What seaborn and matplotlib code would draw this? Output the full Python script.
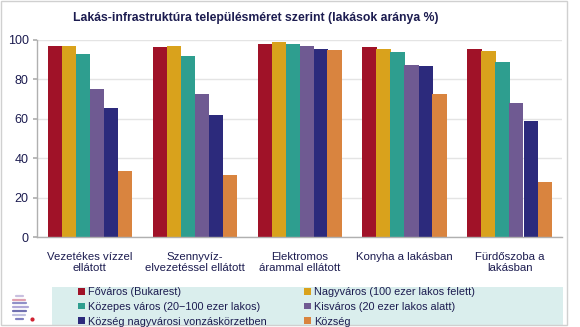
import matplotlib
matplotlib.use("Agg")
import matplotlib.pyplot as plt
import seaborn as sns
import pandas as pd
from matplotlib.patches import Rectangle

categories = ["Vezetékes vízzel\nellátott", "Szennyvíz-\nelvezetéssel ellátott",
              "Elektromos\nárammal ellátott", "Konyha a lakásban", "Fürdőszoba a\nlakásban"]
series = ["Főváros (Bukarest)", "Nagyváros (100 ezer lakos felett)",
          "Közepes város (20−100 ezer lakos)", "Kisváros (20 ezer lakos alatt)",
          "Község nagyvárosi vonzáskörzetben", "Község"]
fovaros = [97.0, 96.6, 98.1, 96.3, 95.3]
nagyvaros = [97.1, 96.8, 98.8, 95.6, 94.4]
kozepes = [92.9, 91.7, 98.0, 93.8, 88.8]
kisvaros = [75.0, 72.7, 96.8, 87.2, 68.2]
kozseg_vonz = [65.3, 62.1, 95.6, 86.6, 58.9]
kozseg = [33.7, 31.6, 94.8, 72.4, 27.8]
yticks = [0, 20, 40, 60, 80, 100]

colors = ["#a01228", "#d9a21c", "#2e9e8f", "#6f5a92", "#2c2a7c", "#d9843f"]
txt = "#1c1c50"

vals = [fovaros, nagyvaros, kozepes, kisvaros, kozseg_vonz, kozseg]
rows = []
for s, v in zip(series, vals):
    for c, x in zip(categories, v):
        rows.append({"cat": c, "series": s, "val": x})
df = pd.DataFrame(rows)

sns.set_theme(style="white")
plt.rcParams['font.family'] = ['Liberation Sans', 'DejaVu Sans']

W, H = 580, 327
fig = plt.figure(figsize=(5.8, 3.27), dpi=100)
ax = fig.add_axes([37/W, 1-237/H, (562-37)/W, (237-40)/H])
sns.barplot(data=df, x="cat", y="val", hue="series", hue_order=series,
            order=categories, palette=colors, width=0.8, gap=0, ax=ax,
            saturation=1, edgecolor="none", linewidth=0, legend=True)
ax.set_ylim(0, 100)
ax.set_xlim(-0.5, 4.5)
ax.set_yticks(yticks)
ax.set_xlabel("")
ax.set_ylabel("")
ax.yaxis.grid(True, color="#e4e4e4", linewidth=1)
ax.set_axisbelow(True)
for sp in ["top", "right"]:
    ax.spines[sp].set_visible(False)
for sp in ["left", "bottom"]:
    ax.spines[sp].set_color("#b0b0b0")
    ax.spines[sp].set_linewidth(1)
ax.tick_params(axis="y", left=True, length=3, color="#b0b0b0", labelsize=9, labelcolor=txt, pad=3)
ax.tick_params(axis="x", bottom=False, labelsize=8.2, labelcolor=txt, pad=5)
for t in ax.get_xticklabels():
    t.set_linespacing(1.15)

handles, labels = ax.get_legend_handles_labels()
ax.get_legend().remove()

# legend background
fig.patches.append(Rectangle((52/W, 1-325/H), (563-52)/W, (325-287)/H, transform=fig.transFigure,
                             facecolor="#daeeed", edgecolor="none", zorder=0))
for idxs, x0 in (([0, 2, 4], 78), ([1, 3, 5], 304)):
    leg = fig.legend([handles[i] for i in idxs], [labels[i] for i in idxs], ncol=1,
                     loc="upper left", bbox_to_anchor=(x0/W, 1-287/H),
                     frameon=False, fontsize=7.8, handlelength=0.6, handleheight=0.6,
                     handletextpad=0.35, borderpad=0.0, labelspacing=0.45, borderaxespad=0)
    for t in leg.get_texts():
        t.set_color(txt)

fig.text(256/W, 1-18/H, "Lakás-infrastruktúra településméret szerint (lakások aránya %)",
         ha="center", va="center", fontsize=8.8, fontweight="bold", color=txt)

# outer frame
fig.patches.append(Rectangle((0.5/W, 2/H), 566/W, 324/H, transform=fig.transFigure,
                             fill=False, edgecolor="#d0d0d0", linewidth=1))

# small logo
lax = fig.add_axes([12/W, 1-323/H, 24/W, 32/H])
lax.set_xlim(0, 10); lax.set_ylim(0, 10); lax.axis("off")
lc = ["#c9c0e0", "#e0a0b0", "#9090c8", "#b0a8d8", "#7070b0", "#c0c0e0", "#8080c0"]
for i, c in enumerate(lc):
    y = 8.5 - i * 1.2
    x0 = 1.5 if i in (0, 6) else 0.5
    lax.plot([x0, 6.5 - abs(3 - i) * 0.6], [y, y], color=c, linewidth=1.6)
lax.plot([8.5], [1.2], marker="o", markersize=2, color="#d02030")

fig.savefig("out.png", dpi=100)
